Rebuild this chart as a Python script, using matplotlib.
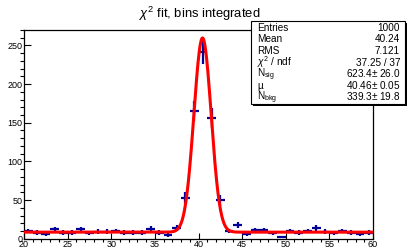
import numpy as np
from matplotlib import pyplot as plt
from matplotlib.patches import Rectangle

plt.rcParams['font.family'] = ['Liberation Sans', 'DejaVu Sans']
plt.rcParams['mathtext.fontset'] = 'custom'
plt.rcParams['mathtext.rm'] = 'Liberation Sans'
plt.rcParams['mathtext.it'] = 'Liberation Sans:italic'

# histogram, 40 bins of width 1 between 20 and 60
bin_centers = np.arange(20.5, 60, 1.0)
counts = [10, 8, 6, 12, 8, 8, 12, 7, 9, 9,
          10, 8, 8, 8, 13, 8, 5, 14, 53, 165,
          241, 156, 50, 10, 18, 6, 11, 11, 7, 2,
          10, 8, 10, 14, 9, 7, 10, 8, 6, 8]

# fit result
n_sig = 623.4
mu = 40.46
sigma = 0.99
n_bkg = 339.3

stat_names = ['Entries', 'Mean', 'RMS', r'$\chi^{2}$ / ndf', r'N$_{\rm sig}$', 'µ', r'N$_{\rm bkg}$']
stat_values = ['1000', '40.24', '7.121', '37.25 / 37', '623.4$\\pm$ 26.0', '40.46$\\pm$ 0.05', '339.3$\\pm$ 19.8']

fig = plt.figure(figsize=(4.07, 2.48), dpi=100)
ax = fig.add_axes([0.059, 0.0375, 0.8575, 0.8415])

counts = np.array(counts)
ax.errorbar(bin_centers, counts, xerr=0.5, yerr=np.sqrt(counts), fmt='none',
            ecolor='#000099', elinewidth=1.6, capsize=0, zorder=2)

xf = np.linspace(20, 60, 800)
yf = n_bkg / 40.0 + n_sig / (np.sqrt(2 * np.pi) * sigma) * np.exp(-0.5 * ((xf - mu) / sigma) ** 2)
ax.plot(xf, yf, color='red', linewidth=2.2, zorder=3)

ax.set_xlim(20, 60)
ax.set_ylim(0, 270)
ax.set_xticks(range(20, 61, 5))
ax.set_xticks(range(20, 61, 1), minor=True)
ax.set_yticks(range(0, 251, 50))
ax.set_yticks(range(0, 271, 10), minor=True)
ax.tick_params(direction='in', labelsize=6.5, pad=1, top=False, right=False)
ax.tick_params(axis='x', which='major', length=4.5, width=0.8, pad=0.8)
ax.tick_params(axis='x', which='minor', length=2.2, width=0.8)
ax.tick_params(axis='y', which='major', length=5, width=0.8)
ax.tick_params(axis='y', which='minor', length=2.8, width=0.8)
for s in ax.spines.values():
    s.set_linewidth(0.9)

fig.text(0.49, 0.945, r'$\chi^{2}$ fit, bins integrated', ha='center', va='center', fontsize=9.4)

# stats box
bx0, by0, bx1, by1 = 251 / 407, 1 - 104 / 248, 405 / 407, 1 - 21 / 248
fig.patches.append(Rectangle((bx0 + 0.004, by0 - 0.007), bx1 - bx0, by1 - by0,
                             transform=fig.transFigure, facecolor='black', edgecolor='none', zorder=5))
fig.patches.append(Rectangle((bx0, by0), bx1 - bx0, by1 - by0, transform=fig.transFigure,
                             facecolor='white', edgecolor='black', linewidth=0.8, zorder=6))
row_base = [31, 42.5, 54, 65.5, 77, 89, 100]
for name, val, ry in zip(stat_names, stat_values, row_base):
    fig.text(257 / 407, 1 - ry / 248, name, ha='left', va='baseline', fontsize=7.2, zorder=7)
    fig.text(400 / 407, 1 - ry / 248, val, ha='right', va='baseline', fontsize=7.2, zorder=7)

fig.savefig('out.png', dpi=100)
